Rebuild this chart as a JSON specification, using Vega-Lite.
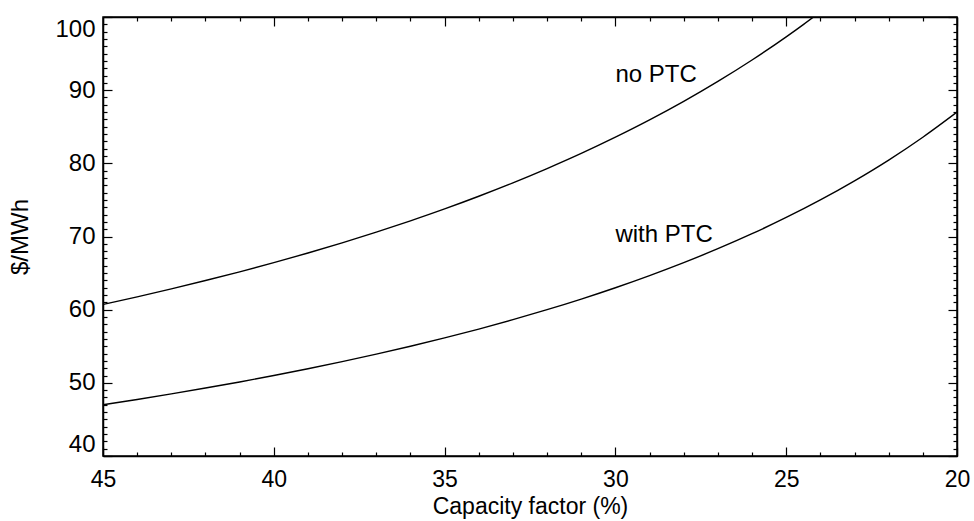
{
  "$schema": "https://vega.github.io/schema/vega-lite/v6.json",
  "width": 854,
  "height": 439,
  "autosize": "none",
  "padding": {"left": 103, "top": 17, "right": 17, "bottom": 65},
  "background": "white",
  "config": {
    "view": {"stroke": "black", "strokeWidth": 1.5},
    "font": "Liberation Sans",
    "axis": {"grid": false, "domainColor": "black", "tickColor": "black", "labelColor": "black", "titleColor": "black", "domainWidth": 1.5, "tickWidth": 1.2, "labelFont": "Liberation Sans", "titleFont": "Liberation Sans", "titleFontWeight": "normal"}
  },
  "datasets": {
    "curves": [
      {"cf": 45, "lcoe": 60.71, "series": "no PTC"},
      {"cf": 44, "lcoe": 61.75, "series": "no PTC"},
      {"cf": 43, "lcoe": 62.84, "series": "no PTC"},
      {"cf": 42, "lcoe": 63.98, "series": "no PTC"},
      {"cf": 41, "lcoe": 65.17, "series": "no PTC"},
      {"cf": 40, "lcoe": 66.43, "series": "no PTC"},
      {"cf": 39, "lcoe": 67.74, "series": "no PTC"},
      {"cf": 38, "lcoe": 69.13, "series": "no PTC"},
      {"cf": 37, "lcoe": 70.59, "series": "no PTC"},
      {"cf": 36, "lcoe": 72.14, "series": "no PTC"},
      {"cf": 35, "lcoe": 73.77, "series": "no PTC"},
      {"cf": 34, "lcoe": 75.5, "series": "no PTC"},
      {"cf": 33, "lcoe": 77.33, "series": "no PTC"},
      {"cf": 32, "lcoe": 79.28, "series": "no PTC"},
      {"cf": 31, "lcoe": 81.35, "series": "no PTC"},
      {"cf": 30, "lcoe": 83.57, "series": "no PTC"},
      {"cf": 29, "lcoe": 85.93, "series": "no PTC"},
      {"cf": 28, "lcoe": 88.46, "series": "no PTC"},
      {"cf": 27, "lcoe": 91.19, "series": "no PTC"},
      {"cf": 26, "lcoe": 94.12, "series": "no PTC"},
      {"cf": 25, "lcoe": 97.28, "series": "no PTC"},
      {"cf": 24.5, "lcoe": 98.96, "series": "no PTC"},
      {"cf": 24, "lcoe": 100.71, "series": "no PTC"},
      {"cf": 45, "lcoe": 47.0, "series": "with PTC"},
      {"cf": 44, "lcoe": 47.73, "series": "with PTC"},
      {"cf": 43, "lcoe": 48.49, "series": "with PTC"},
      {"cf": 42, "lcoe": 49.29, "series": "with PTC"},
      {"cf": 41, "lcoe": 50.12, "series": "with PTC"},
      {"cf": 40, "lcoe": 51.0, "series": "with PTC"},
      {"cf": 39, "lcoe": 51.92, "series": "with PTC"},
      {"cf": 38, "lcoe": 52.89, "series": "with PTC"},
      {"cf": 37, "lcoe": 53.92, "series": "with PTC"},
      {"cf": 36, "lcoe": 55.0, "series": "with PTC"},
      {"cf": 35, "lcoe": 56.14, "series": "with PTC"},
      {"cf": 34, "lcoe": 57.35, "series": "with PTC"},
      {"cf": 33, "lcoe": 58.64, "series": "with PTC"},
      {"cf": 32, "lcoe": 60.0, "series": "with PTC"},
      {"cf": 31, "lcoe": 61.45, "series": "with PTC"},
      {"cf": 30, "lcoe": 63.0, "series": "with PTC"},
      {"cf": 29, "lcoe": 64.66, "series": "with PTC"},
      {"cf": 28, "lcoe": 66.43, "series": "with PTC"},
      {"cf": 27, "lcoe": 68.33, "series": "with PTC"},
      {"cf": 26, "lcoe": 70.38, "series": "with PTC"},
      {"cf": 25, "lcoe": 72.6, "series": "with PTC"},
      {"cf": 24, "lcoe": 75.0, "series": "with PTC"},
      {"cf": 23, "lcoe": 77.61, "series": "with PTC"},
      {"cf": 22, "lcoe": 80.45, "series": "with PTC"},
      {"cf": 21, "lcoe": 83.57, "series": "with PTC"},
      {"cf": 20, "lcoe": 87.0, "series": "with PTC"}
    ],
    "labels": [
      {"cf": 30, "lcoe": 92.1, "label": "no PTC"},
      {"cf": 30, "lcoe": 70.2, "label": "with PTC"}
    ]
  },
  "layer": [
    {
      "data": {"name": "curves"},
      "mark": {"type": "line", "color": "black", "strokeWidth": 1.4, "interpolate": "monotone", "clip": true},
      "encoding": {
        "x": {"field": "cf", "type": "quantitative", "scale": {"domain": [45, 20], "nice": false, "zero": false},
          "axis": {"orient": "bottom", "values": [45, 40, 35, 30, 25, 20], "tickSize": -9, "labelPadding": 21, "labelFontSize": 23, "labelFlush": false, "labelOverlap": false, "title": "Capacity factor (%)", "titleFontSize": 23, "titleBaseline": "alphabetic", "titleY": 57}},
        "y": {"field": "lcoe", "type": "quantitative", "scale": {"domain": [40, 100], "nice": false, "zero": false},
          "axis": {"orient": "left", "values": [40, 50, 60, 70, 80, 90, 100], "tickSize": -9, "labelPadding": 17, "labelFontSize": 24, "labelFlush": true, "labelOverlap": false, "title": "$/MWh", "titleFontSize": 24, "titlePadding": 22}},
        "detail": {"field": "series"}
      }
    },
    {
      "data": {"name": "labels"},
      "mark": {"type": "text", "align": "left", "baseline": "middle", "fontSize": 24, "color": "black", "font": "Liberation Sans"},
      "encoding": {
        "x": {"field": "cf", "type": "quantitative",
          "axis": {"orient": "bottom", "values": [44, 43, 42, 41, 39, 38, 37, 36, 34, 33, 32, 31, 29, 28, 27, 26, 24, 23, 22, 21], "tickSize": -4, "labels": false, "domain": false, "title": null}},
        "y": {"field": "lcoe", "type": "quantitative",
          "axis": {"orient": "left", "values": [41, 42, 43, 44, 45, 46, 47, 48, 49, 51, 52, 53, 54, 55, 56, 57, 58, 59, 61, 62, 63, 64, 65, 66, 67, 68, 69, 71, 72, 73, 74, 75, 76, 77, 78, 79, 81, 82, 83, 84, 85, 86, 87, 88, 89, 91, 92, 93, 94, 95, 96, 97, 98, 99], "tickSize": -4, "labels": false, "domain": false, "title": null}},
        "text": {"field": "label"}
      }
    },
    {
      "data": {"name": "labels"},
      "mark": {"type": "point", "opacity": 0},
      "encoding": {
        "x": {"field": "cf", "type": "quantitative",
          "axis": {"orient": "top", "values": [45, 40, 35, 30, 25, 20], "tickSize": -9, "labels": false, "title": null}},
        "y": {"field": "lcoe", "type": "quantitative",
          "axis": {"orient": "right", "values": [40, 50, 60, 70, 80, 90, 100], "tickSize": -9, "labels": false, "title": null}}
      }
    },
    {
      "data": {"name": "labels"},
      "mark": {"type": "point", "opacity": 0},
      "encoding": {
        "x": {"field": "cf", "type": "quantitative",
          "axis": {"orient": "top", "values": [44, 43, 42, 41, 39, 38, 37, 36, 34, 33, 32, 31, 29, 28, 27, 26, 24, 23, 22, 21], "tickSize": -4, "labels": false, "domain": false, "title": null}},
        "y": {"field": "lcoe", "type": "quantitative",
          "axis": {"orient": "right", "values": [41, 42, 43, 44, 45, 46, 47, 48, 49, 51, 52, 53, 54, 55, 56, 57, 58, 59, 61, 62, 63, 64, 65, 66, 67, 68, 69, 71, 72, 73, 74, 75, 76, 77, 78, 79, 81, 82, 83, 84, 85, 86, 87, 88, 89, 91, 92, 93, 94, 95, 96, 97, 98, 99], "tickSize": -4, "labels": false, "domain": false, "title": null}}
      }
    }
  ],
  "resolve": {"axis": {"x": "independent", "y": "independent"}}
}
